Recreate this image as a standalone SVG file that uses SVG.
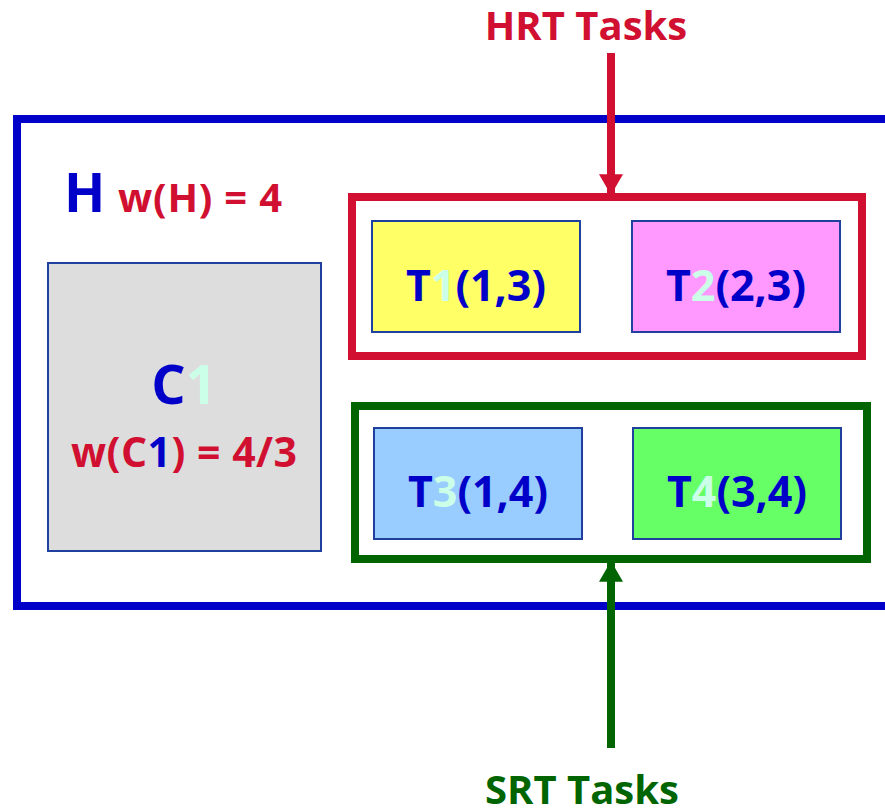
<svg xmlns="http://www.w3.org/2000/svg" width="885" height="809" viewBox="0 0 885 809">
<style>
text{font-family:"Open Sans","Liberation Sans",sans-serif;font-weight:bold;}
.blue{fill:#0000c8}
.red{fill:#d11031}
.green{fill:#006400}
.mint{fill:#ccffe8}
.task{stroke:#2040a0;stroke-width:2}
.tt{font-size:43px;text-anchor:middle}
.lbl{font-size:40px;text-anchor:middle}
</style>
<defs>
<marker id="ahR" markerWidth="2.6" markerHeight="3" refX="2.6" refY="1.5" orient="auto" markerUnits="strokeWidth">
<path d="M0,0 L2.6,1.5 L0,3 z" fill="#d11031"/>
</marker>
<marker id="ahG" markerWidth="2.6" markerHeight="3" refX="2.6" refY="1.5" orient="auto" markerUnits="strokeWidth">
<path d="M0,0 L2.6,1.5 L0,3 z" fill="#006400"/>
</marker>
</defs>
<rect width="885" height="809" fill="#ffffff"/>
<g id="H">
<rect x="17" y="119" width="880" height="487" fill="none" stroke="#0000c8" stroke-width="8"/>
<text x="64" y="212" font-size="54" class="blue">H</text>
<text x="118" y="212" font-size="40" class="red" textLength="164">w(H) = 4</text>
</g>
<g id="C1">
<rect x="48" y="263" width="273" height="288" fill="#dddddd" stroke="#2040a0" stroke-width="2"/>
<text x="184" y="404" font-size="54" text-anchor="middle"><tspan class="blue">C</tspan><tspan class="mint">1</tspan></text>
<text x="184" y="467" font-size="41" text-anchor="middle" class="red" textLength="226">w(C<tspan class="blue">1</tspan>) = 4/3</text>
</g>
<g id="HRT">
<rect x="352" y="197" width="510" height="159" fill="none" stroke="#d11031" stroke-width="8"/>
</g>
<g id="SRT">
<rect x="355" y="406" width="512" height="153" fill="none" stroke="#006400" stroke-width="8"/>
</g>
<g id="T1">
<rect x="372" y="221" width="208" height="111" fill="#ffff66" class="task"/>
<text x="476" y="301" class="tt blue">T<tspan class="mint">1</tspan>(1,3)</text>
</g>
<g id="T2">
<rect x="632" y="221" width="208" height="111" fill="#ff99ff" class="task"/>
<text x="736" y="301" class="tt blue">T<tspan class="mint">2</tspan>(2,3)</text>
</g>
<g id="T3">
<rect x="374" y="428" width="208" height="111" fill="#99ccff" class="task"/>
<text x="478" y="507" class="tt blue">T<tspan class="mint">3</tspan>(1,4)</text>
</g>
<g id="T4">
<rect x="633" y="428" width="208" height="111" fill="#66ff66" class="task"/>
<text x="737" y="507" class="tt blue">T<tspan class="mint">4</tspan>(3,4)</text>
</g>
<g id="HRTlabel">
<text x="586" y="40" class="lbl red">HRT Tasks</text>
</g>
<g id="SRTlabel">
<text x="582" y="804" class="lbl green">SRT Tasks</text>
</g>
<g id="connectors">
<line x1="611" y1="53" x2="611" y2="195" stroke="#d11031" stroke-width="8" marker-end="url(#ahR)"/>
<line x1="611" y1="748" x2="611" y2="561" stroke="#006400" stroke-width="8" marker-end="url(#ahG)"/>
</g>
</svg>
